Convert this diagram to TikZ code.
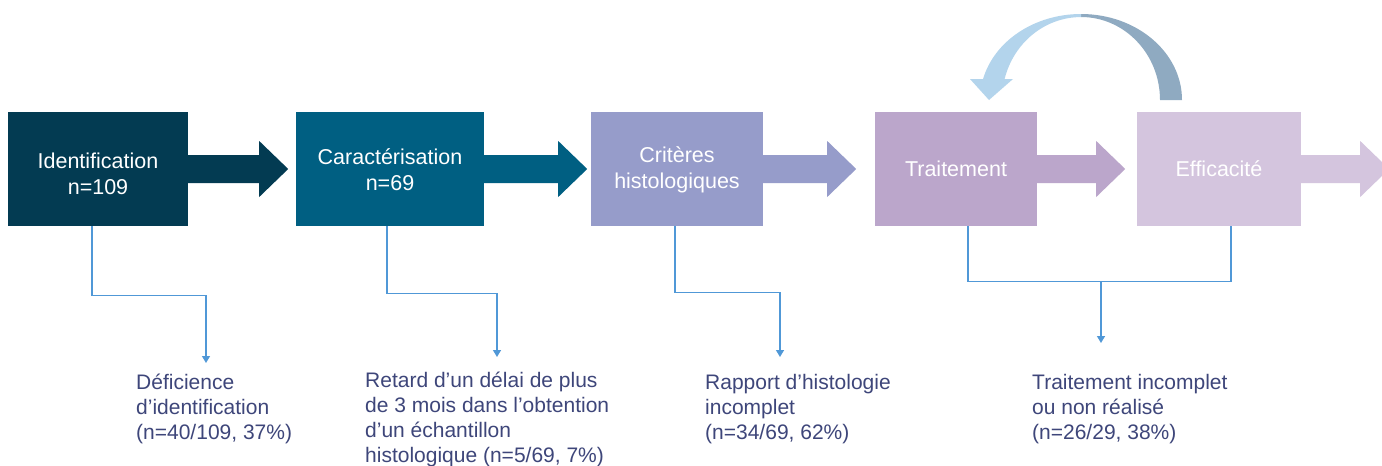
\documentclass[tikz,border=0pt]{standalone}
\usepackage{fontspec}
\setmainfont{Liberation Sans}
\usetikzlibrary{arrows.meta,calc}
\definecolor{cA}{RGB}{3,59,82}
\definecolor{cB}{RGB}{0,95,130}
\definecolor{cC}{RGB}{150,156,202}
\definecolor{cD}{RGB}{187,166,203}
\definecolor{cE}{RGB}{212,197,222}
\definecolor{linec}{RGB}{80,152,215}
\definecolor{notec}{RGB}{62,70,122}
\definecolor{loopL}{RGB}{179,212,236}
\definecolor{loopR}{RGB}{143,170,193}
\tikzset{
  stagebox/.style={rectangle, inner sep=0pt, minimum height=114pt, text=white,
    align=center, font=\fontsize{21.5}{26}\selectfont},
  notetext/.style={anchor=north west, inner sep=0pt, align=left, text=notec,
    font=\fontsize{21}{25}\selectfont},
  link/.style={draw=linec, line width=1.4pt},
  linkarrow/.style={link, -{Triangle[width=8pt,length=7pt]}},
}
\newcommand\blockarrow[3]{%
  \fill[#1] (#2.east) ++(0,-14) -- ++(#3,0) -- ++(0,-14) -- ++(29,28)
    -- ++(-29,28) -- ++(0,-14) -- ++(-#3,0) -- cycle;}
\begin{document}
\begin{tikzpicture}[x=1pt,y=-1pt]
\useasboundingbox (0,0) rectangle (1382,466);
\clip (0,0) rectangle (1382,466);
\fill[white] (0,0) rectangle (1382,466);

% stage boxes
\node[stagebox, fill=cA, minimum width=180pt] (b1) at (98,169) {\rule{0pt}{25pt}Identification\\n=109};
\node[stagebox, fill=cB, minimum width=188pt] (b2) at (390,169) {\rule{0pt}{18pt}Caractérisation\\n=69};
\node[stagebox, fill=cC, minimum width=172pt] (b3) at (677,169) {\rule{0pt}{18pt}Critères\\histologiques};
\node[stagebox, fill=cD, minimum width=162pt] (b4) at (956,169) {Traitement};
\node[stagebox, fill=cE, minimum width=164pt] (b5) at (1219,169) {Efficacité};

% block arrows
\blockarrow{cA}{b1}{71}
\blockarrow{cB}{b2}{74}
\blockarrow{cC}{b3}{64}
\blockarrow{cD}{b4}{59}
\blockarrow{cE}{b5}{59}

% loop arrow from Efficacité back to Traitement
\fill[loopR] (1182,100) arc[start angle=0, end angle=-90, x radius=101, y radius=86]
  -- (1081,17) arc[start angle=-90, end angle=0, x radius=79, y radius=83] -- cycle;
\fill[loopL] (1081,14) arc[start angle=-90, end angle=-165.9, x radius=101, y radius=86]
  -- (970,79) -- (989,100) -- (1013,79) -- (1004.6,79)
  arc[start angle=-165.3, end angle=-90, x radius=79, y radius=83] -- cycle;

% notes
\node[notetext] (t1) at (136,374) {Déficience\\d’identification\\(n=40/109, 37\%)};
\node[notetext] (t2) at (365,372) {Retard d’un délai de plus\\de 3 mois dans l’obtention\\d’un échantillon\\histologique (n=5/69, 7\%)};
\node[notetext] (t3) at (705,374) {Rapport d’histologie\\incomplet\\(n=34/69, 62\%)};
\node[notetext] (t4) at (1032,374) {Traitement incomplet\\ou non réalisé\\(n=26/29, 38\%)};

% connector ends
\coordinate (e1) at (206,363);
\coordinate (e2) at (497,357);
\coordinate (e3) at (780,357);
\coordinate (m) at (1101,281);
\coordinate (e4) at (1101,343);

% connectors
\draw[linkarrow] ([xshift=-6pt]b1.south) -- ++(0,69) -| (e1);
\draw[linkarrow] ([xshift=-3pt]b2.south) -- ++(0,67) -| (e2);
\draw[linkarrow] ([xshift=-2pt]b3.south) -- ++(0,66) -| (e3);
\draw[link] ([xshift=12pt]b4.south) -- ++(0,55) -| ([xshift=12pt]b5.south);
\draw[linkarrow] (m) -- (e4);
\end{tikzpicture}
\end{document}
